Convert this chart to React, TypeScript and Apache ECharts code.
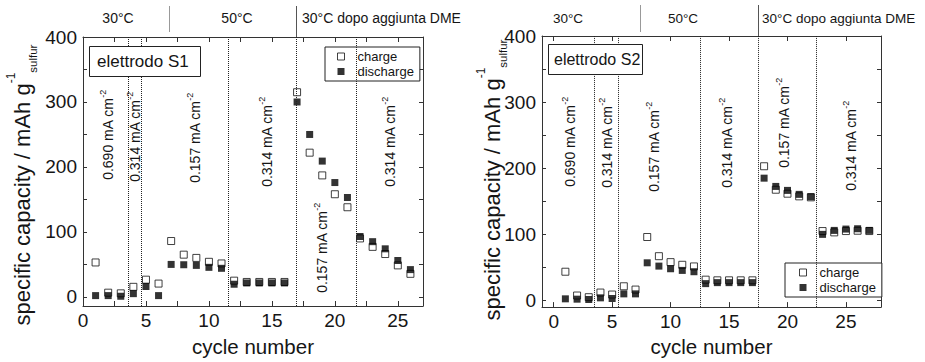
import React, { useEffect, useRef } from 'react';
import * as echarts from 'echarts';

// ---------- data ----------
const cyclesS1 = [1, 2, 3, 4, 5, 6, 7, 8, 9, 10, 11, 12, 13, 14, 15, 16, 17, 18, 19, 20, 21, 22, 23, 24, 25, 26];
const chargeS1 = [53, 6.5, 5.5, 15.5, 26.5, 20.5, 86, 65, 60, 54, 51.5, 25, 23, 23, 23, 23, 315, 222, 187, 158, 138, 90, 77, 66, 48.5, 35.5];
const dischargeS1 = [2, 2, 1, 5, 16, 2, 50, 49.5, 48.5, 45.5, 44, 19.5, 21.5, 21.5, 21.5, 21.5, 300, 250, 209, 176, 153, 93, 85, 74, 56, 42];

const cyclesS2 = [1, 2, 3, 4, 5, 6, 7, 8, 9, 10, 11, 12, 13, 14, 15, 16, 17, 18, 19, 20, 21, 22, 23, 24, 25, 26, 27];
const chargeS2 = [43.5, 7.5, 5, 12, 9, 21.5, 16.5, 96, 67, 58, 54, 51.5, 31.5, 30.5, 30.5, 30.5, 30.5, 203, 167.5, 161.5, 157.5, 156, 105, 103, 105, 105.5, 105];
const dischargeS2 = [2.5, 2, 1.5, 4, 3, 10, 10, 57, 52, 48, 45.5, 43.5, 25.5, 27, 27, 27, 27, 185, 172.5, 166.5, 160.5, 157, 100, 106, 108, 108.5, 106];

const currentLinesS1 = [3.6, 4.6, 11.5, 16.9, 21.7];
const currentLinesS2 = [3.45, 5.55, 12.55, 17.5, 22.5];

const yTickValues = [0, 50, 100, 150, 200, 250, 300, 350, 400];
const yLabelValues = [0, 100, 200, 300, 400];
const xTickValuesS1 = [0, 2.5, 5, 7.5, 10, 12.5, 15, 17.5, 20, 22.5, 25];
const xTickValuesS2 = [0, 5, 10, 15, 20, 25];
const xLabelValues = [0, 5, 10, 15, 20, 25];

const temperatureLabels = ['30°C', '50°C', '30°C dopo aggiunta DME'];
const currentLabelsS1 = ['0.690', '0.314', '0.157', '0.314', '0.157', '0.314'];
const currentLabelsS2 = ['0.690', '0.314', '0.157', '0.314', '0.157', '0.314'];
const electrodeNames = ['elettrodo S1', 'elettrodo S2'];
const seriesNames = ['charge', 'discharge'];

const FONT = '"Liberation Sans", Arial, Helvetica, sans-serif';
const INK = '#151515';
const AXIS = '#333';

function xAxes(grid: number, min: number, max: number, ticks: number[], nameGap: number) {
  return [
    {
      type: 'value', gridIndex: grid, min, max, position: 'bottom',
      axisLine: { onZero: false, lineStyle: { color: AXIS, width: 1 } },
      axisTick: { inside: true, length: 5, customValues: ticks, lineStyle: { color: AXIS } },
      axisLabel: { customValues: xLabelValues, fontSize: 19, color: INK, margin: 5, fontFamily: FONT },
      splitLine: { show: false },
      name: 'cycle number', nameLocation: 'middle', nameGap,
      nameTextStyle: { fontSize: 20.5, color: INK, fontFamily: FONT },
    },
    {
      type: 'value', gridIndex: grid, min, max, position: 'top',
      axisLine: { onZero: false, lineStyle: { color: AXIS, width: 1 } },
      axisTick: { inside: true, length: 5, customValues: ticks, lineStyle: { color: AXIS } },
      axisLabel: { show: false },
      splitLine: { show: false },
    },
  ];
}

function yAxes(grid: number, min: number) {
  return [
    {
      type: 'value', gridIndex: grid, min, max: 400, position: 'left',
      axisLine: { onZero: false, lineStyle: { color: AXIS, width: 1 } },
      axisTick: { inside: true, length: 4, customValues: yTickValues, lineStyle: { color: AXIS } },
      axisLabel: { customValues: yLabelValues, fontSize: 19, color: INK, margin: 6, fontFamily: FONT },
      splitLine: { show: false },
    },
    {
      type: 'value', gridIndex: grid, min, max: 400, position: 'right',
      axisLine: { onZero: false, lineStyle: { color: AXIS, width: 1 } },
      axisTick: { inside: true, length: 4, customValues: yTickValues, lineStyle: { color: AXIS } },
      axisLabel: { show: false },
      splitLine: { show: false },
    },
  ];
}

function seriesFor(grid: number, cycles: number[], charge: number[], discharge: number[], lines: number[]) {
  return [
    {
      type: 'scatter', name: seriesNames[0], xAxisIndex: grid * 2, yAxisIndex: grid * 2,
      data: cycles.map((c, i) => [c, charge[i]]),
      symbol: 'rect', symbolSize: 7, z: 3,
      itemStyle: { color: '#fff', borderColor: '#111', borderWidth: 1 },
      markLine: {
        silent: true, symbol: 'none', label: { show: false }, animation: false,
        lineStyle: { type: 'dotted', color: '#222', width: 1 },
        data: lines.map((v) => ({ xAxis: v })),
      },
    },
    {
      type: 'scatter', name: seriesNames[1], xAxisIndex: grid * 2, yAxisIndex: grid * 2,
      data: cycles.map((c, i) => [c, discharge[i]]),
      symbol: 'rect', symbolSize: 7, z: 4,
      itemStyle: { color: '#000' },
    },
  ];
}

function legendAt(left: number, top: number, textPad: number, padLeft: number) {
  return {
    left, top, orient: 'vertical', selectedMode: false,
    data: [
      { name: seriesNames[0], icon: 'rect', itemStyle: { color: '#fff', borderColor: '#111', borderWidth: 1 } },
      { name: seriesNames[1], icon: 'rect', itemStyle: { color: '#000' } },
    ],
    itemWidth: 7, itemHeight: 7, itemGap: 2,
    padding: [3, 6, 3, padLeft],
    borderColor: '#222', borderWidth: 1, backgroundColor: '#fff',
    textStyle: { fontSize: 13, color: INK, fontFamily: FONT, padding: [0, 0, 0, textPad] },
  };
}

function currentLabel(value: string, x: number, y: number) {
  return {
    type: 'text', x, y, rotation: Math.PI / 2, z: 10,
    style: {
      text: `{m|${value} mA cm}{s|-2}`,
      align: 'center', verticalAlign: 'middle',
      rich: {
        m: { fontSize: 14, lineHeight: 20, fill: INK, fontFamily: FONT },
        s: { fontSize: 9, lineHeight: 11, verticalAlign: 'top', fill: INK, fontFamily: FONT },
      },
    },
  };
}

function yName(x: number, y: number) {
  return {
    type: 'text', x, y, rotation: Math.PI / 2, z: 10,
    style: {
      text: '{m|specific capacity / mAh g}{p|-1}{b|sulfur}',
      align: 'center', verticalAlign: 'middle',
      rich: {
        m: { fontSize: 22, lineHeight: 34, fill: INK, fontFamily: FONT },
        p: { fontSize: 12, lineHeight: 25, verticalAlign: 'top', fill: INK, fontFamily: FONT },
        b: { fontSize: 11.5, lineHeight: 24, verticalAlign: 'bottom', fill: INK, fontFamily: FONT },
      },
    },
  };
}

function plainText(text: string, x: number, y: number, size: number, align: string) {
  return {
    type: 'text', x, y, z: 10,
    style: { text, fontSize: size, fill: INK, fontFamily: FONT, align, verticalAlign: 'middle' },
  };
}

function vline(x: number, y1: number, y2: number, color: string) {
  return { type: 'line', z: 10, shape: { x1: x, y1, x2: x, y2 }, style: { stroke: color, lineWidth: 1 } };
}

function electrodeBox(name: string, x: number, y: number, w: number, h: number, size: number, tx: number) {
  return [
    { type: 'rect', z: 10, shape: { x, y, width: w, height: h }, style: { fill: '#fff', stroke: '#222', lineWidth: 1 } },
    { type: 'text', z: 11, x: tx, y: y + h / 2, style: { text: name, fontSize: size, fill: INK, fontFamily: FONT, align: 'left', verticalAlign: 'middle' } },
  ];
}

export default function App() {
  const ref = useRef<HTMLDivElement>(null);
  useEffect(() => {
    if (!ref.current) return;
    const chart = echarts.init(ref.current, undefined, { renderer: 'svg' });
    const s1Pos = [[108, 135], [135, 137], [195, 138], [267, 142], [322, 248], [390, 142]];
    const s2Pos = [[570, 142], [607, 143], [654, 147], [727, 143], [784, 123], [851, 146]];
    chart.setOption({
      animation: false,
      backgroundColor: '#fff',
      textStyle: { fontFamily: FONT },
      grid: [
        { left: 83, top: 37, width: 340, height: 275 },
        { left: 542, top: 36, width: 339, height: 273 },
      ],
      xAxis: [...xAxes(0, 0, 27, xTickValuesS1, 30), ...xAxes(1, -1, 28, xTickValuesS2, 22)],
      yAxis: [...yAxes(0, -14), ...yAxes(1, -10)],
      legend: [legendAt(325, 47, 8, 12), legendAt(785, 263, 8, 14)],
      series: [
        ...seriesFor(0, cyclesS1, chargeS1, dischargeS1, currentLinesS1),
        ...seriesFor(1, cyclesS2, chargeS2, dischargeS2, currentLinesS2),
      ],
      graphic: [
        plainText(temperatureLabels[0], 118, 18, 14, 'center'),
        plainText(temperatureLabels[1], 237, 18, 14, 'center'),
        plainText(temperatureLabels[2], 302, 18, 14, 'left'),
        plainText(temperatureLabels[0], 568, 18, 13.5, 'center'),
        plainText(temperatureLabels[1], 683, 18, 13.5, 'center'),
        plainText(temperatureLabels[2], 762, 18, 13.5, 'left'),
        vline(169.5, 6, 32, '#999'),
        vline(296.5, 6, 37, '#555'),
        vline(640.5, 5, 32, '#999'),
        vline(758.5, 5, 36, '#555'),
        ...electrodeBox(electrodeNames[0], 89.5, 46.5, 111, 30, 17, 97),
        ...electrodeBox(electrodeNames[1], 548.5, 44.5, 94, 30, 16, 554),
        ...currentLabelsS1.map((v, i) => currentLabel(v, s1Pos[i][0], s1Pos[i][1])),
        ...currentLabelsS2.map((v, i) => currentLabel(v, s2Pos[i][0], s2Pos[i][1])),
        yName(22, 185),
        yName(492, 180),
      ],
    });
    return () => chart.dispose();
  }, []);
  return <div ref={ref} style={{ position: 'fixed', left: 0, top: 0, width: 925, height: 362, background: '#fff' }} />;
}
